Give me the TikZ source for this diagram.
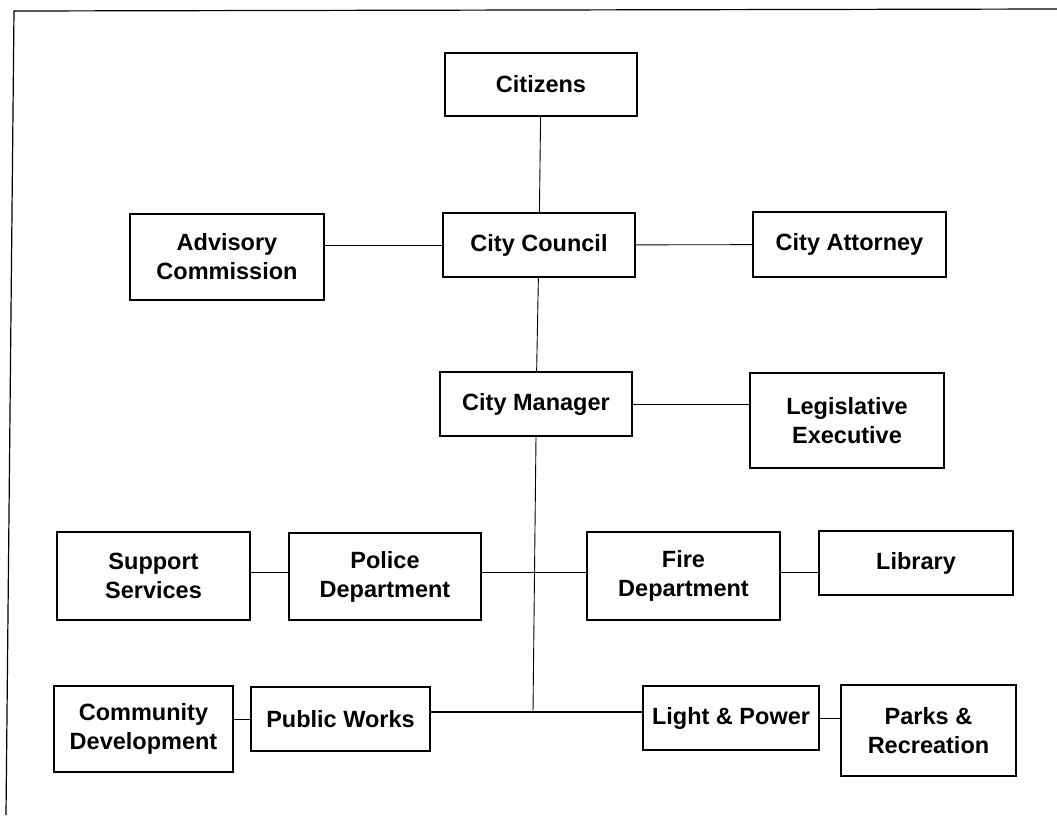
\documentclass[tikz,border=0pt]{standalone}
\usepackage{fontspec}
\setmainfont{Liberation Sans}
\begin{document}
\begin{tikzpicture}[x=1pt,y=-1pt,
  office/.style={draw,line width=1.3pt,rectangle,inner sep=0pt,align=center,
    font=\fontsize{23.5}{29}\selectfont\bfseries},
  link/.style={line width=0.9pt}]
\useasboundingbox (0,0) rectangle (1057,815);
\draw[line width=1.2pt] (6,815)--(14,11)--(1057,9);
\node (citizens) at (541,84.5) [office,minimum width=192,minimum height=63] {Citizens};
\node (council) at (539,245) [office,minimum width=192,minimum height=64] {City Council};
\node (advisory) at (227,257) [office,minimum width=194,minimum height=86] {Advisory\\Commission};
\node (attorney) at (849.5,244.5) [office,minimum width=193,minimum height=65] {City Attorney};
\node (manager) at (536,404) [office,minimum width=192,minimum height=64] {City Manager};
\node (legis) at (847,420.5) [office,minimum width=194,minimum height=95] {Legislative\\Executive};
\node (support) at (153.5,576) [office,minimum width=193,minimum height=88] {Support\\Services};
\node (police) at (385,576.5) [office,minimum width=192,minimum height=87] {Police\\Department};
\node (fire) at (683.5,576) [office,minimum width=193,minimum height=88] {Fire\\Department};
\node (library) at (916,563) [office,minimum width=194,minimum height=64] {Library};
\node (commdev) at (143.5,729) [office,minimum width=179,minimum height=86] {Community\\Development};
\node (pubworks) at (340.5,719) [office,minimum width=179,minimum height=64] {Public Works};
\node (lightpower) at (731,718) [office,minimum width=176,minimum height=64] {Light \& Power};
\node (parks) at (928.5,730.5) [office,minimum width=175,minimum height=91] {Parks \&\\Recreation};
\coordinate (mid) at (533,572);
\coordinate (hub) at (533,712);
\draw[link] (citizens)--(council);
\draw[link] (council)--(manager);
\draw[link] (advisory.east |- council)--(council.west);
\draw[link] (council)--(attorney);
\draw[link] (manager.east)--(legis.west |- manager);
\draw[link] (manager.south)--(hub);
\draw[link] (police.east |- mid)--(fire.west |- mid);
\draw[link] (support.east |- mid)--(police.west |- mid);
\draw[link] (fire.east |- mid)--(library.west |- mid);
\draw[line width=1.3pt] (pubworks.east |- hub)--(lightpower.west |- hub);
\draw[link] (commdev.east |- pubworks)--(pubworks.west);
\draw[link] (lightpower.east)--(parks.west |- lightpower);
\end{tikzpicture}
\end{document}
